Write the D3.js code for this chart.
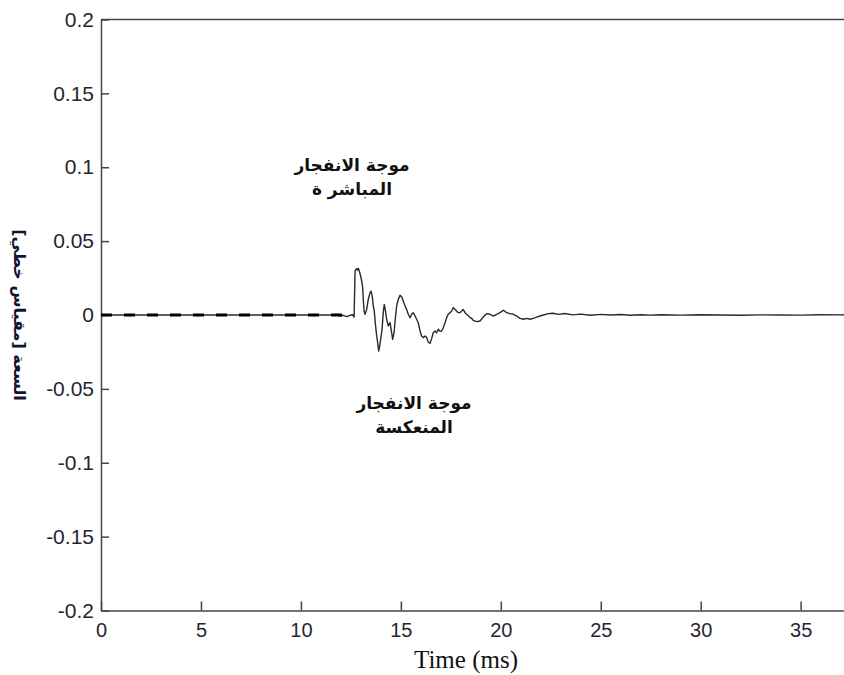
<!DOCTYPE html>
<html>
<head>
<meta charset="utf-8">
<script src="https://cdn.jsdelivr.net/npm/d3@7"></script>
<style>
  body { margin: 0; background: #fff; }
  svg { display: block; }
  .axis path, .axis line { stroke: #444; stroke-width: 1.5; }
  .axis text { font-family: "Liberation Sans", Arial, sans-serif; fill: #262630; }
  .arabic { font-family: "DejaVu Sans", sans-serif; font-weight: bold; fill: #111; }
</style>
</head>
<body>
<div id="chart"></div>
<script>
const w = 844;
const h = 675;
const plotLeft = 101;
const plotTop = 19.5;
const plotBottom = 610.5;
const pxPerMs = 19.99;

// time axis (ms) and measured amplitude
const timeMs = [0, 11.5, 11.8, 11.96, 12.12, 12.29, 12.46, 12.59, 12.66, 12.71, 12.79, 12.84, 12.87, 12.92, 12.99,
  13.04, 13.09, 13.12, 13.16, 13.21, 13.29, 13.37, 13.46, 13.51, 13.57, 13.62, 13.67, 13.72, 13.79, 13.84,
  13.89, 13.94, 13.99, 14.06, 14.12, 14.17, 14.22, 14.29, 14.37, 14.46, 14.54, 14.59, 14.66, 14.72, 14.79,
  14.87, 14.96, 15.04, 15.12, 15.21, 15.29, 15.37, 15.46, 15.54, 15.62, 15.71, 15.79, 15.87, 15.96, 16.04,
  16.12, 16.21, 16.29, 16.37, 16.46, 16.54, 16.62, 16.71, 16.79, 16.87, 16.96, 17.04, 17.12, 17.21, 17.29,
  17.37, 17.46, 17.54, 17.62, 17.71, 17.79, 17.87, 17.96, 18.04, 18.12, 18.21, 18.29, 18.38, 18.46, 18.54, 18.62, 18.79,
  18.96, 19.12, 19.29, 19.46, 19.62, 19.79, 19.96, 20.13, 20.29, 20.46, 20.63, 20.8, 20.96, 21.13, 21.3,
  21.46, 21.63, 21.8, 21.96, 22.13, 22.38, 22.6, 22.9, 23.2, 23.6, 24, 24.5, 25, 25.5, 26, 26.5, 27, 27.5,
  28, 29, 30, 31, 32, 33, 34, 35, 36, 37, 37.5];
const amplitude = [0, 0, 0.0004, -0.0007, -0.0002, -0.0011, -0.0002, 0.0002, -0.0014, 0.0298, 0.0313, 0.0305, 0.0316, 0.0298, 0.0264,
  0.0230, 0.0185, 0.0106, 0.0027, 0.0005, 0.0038, 0.0106, 0.0151, 0.0162, 0.0129, 0.0061, 0.0027, -0.0052, -0.0142, -0.0187,
  -0.0244, -0.0210, -0.0165, -0.0097, 0.0016, 0.0072, 0.0038, -0.0029, -0.0074, -0.0052, -0.0120, -0.0165, -0.0120, -0.0029, 0.0061,
  0.0106, 0.0133, 0.0124, 0.0095, 0.0061, 0.0038, 0.0005, -0.0018, 0.0005, 0.0016, -0.0007, -0.0029, -0.0052, -0.0108, -0.0142,
  -0.0153, -0.0142, -0.0153, -0.0183, -0.0192, -0.0160, -0.0120, -0.0108, -0.0120, -0.0097, -0.0110, -0.0108, -0.0086, -0.0052, -0.0018,
  0.0005, 0.0016, 0.0027, 0.0050, 0.0038, 0.0027, 0.0016, 0.0016, 0.0027, 0.0038, 0.0016, 0.0005, -0.0005, -0.0018, -0.0022, -0.0036, -0.0045,
  -0.0041, -0.0014, 0.0009, 0.0005, -0.0007, 0.0005, 0.0016, 0.0032, 0.0016, 0.0009, 0.0005, -0.0007, -0.0023, -0.0029, -0.0023,
  -0.0029, -0.0023, -0.0014, -0.0007, 0, 0.0009, 0.0012, 0.0004, 0.0010, 0.0001, 0.0006, -0.0002, 0.0004, 0, 0.0003, -0.0002, 0.0002, -0.0001,
  0.0002, -0.0001, 0.0002, 0, -0.0002, 0.0001, 0, -0.0001, 0.0002, 0.0001, 0.0002];

// direct-wave reference (dashed) before arrival
const directTime = [0, 12.4];
const directAmp = [0, 0];

const xTicks = [0, 5, 10, 15, 20, 25, 30, 35];
const yTicks = [-0.2, -0.15, -0.1, -0.05, 0, 0.05, 0.1, 0.15, 0.2];
const yTickLabels = ["-0.2", "-0.15", "-0.1", "-0.05", "0", "0.05", "0.1", "0.15", "0.2"];

const xLabel = "Time (ms)";
const yLabel = "السعة [مقياس خطي]";
const noteDirect = ["موجة الانفجار", "المباشر ة"];
const noteReflected = ["موجة الانفجار", "المنعكسة"];

const xScale = d3.scaleLinear().domain([0, 40]).range([plotLeft, plotLeft + 40 * pxPerMs]);
const yScale = d3.scaleLinear().domain([-0.2, 0.2]).range([plotBottom, plotTop]);

const svg = d3.select("#chart").append("svg").attr("width", w).attr("height", h);

// frame top line
svg.append("line")
  .attr("x1", plotLeft).attr("x2", w + 5)
  .attr("y1", plotTop).attr("y2", plotTop)
  .attr("stroke", "#444").attr("stroke-width", 1.5);

const xAxis = d3.axisBottom(xScale).tickValues(xTicks).tickSizeInner(-9).tickSizeOuter(0).tickPadding(12);
const gx = svg.append("g").attr("class", "axis")
  .attr("transform", "translate(0," + plotBottom + ")")
  .call(xAxis);
gx.selectAll("text").style("font-size", "20px");

const yAxis = d3.axisLeft(yScale).tickValues(yTicks).tickSizeInner(-8).tickSizeOuter(0).tickPadding(7)
  .tickFormat((d, i) => yTickLabels[i]);
const gy = svg.append("g").attr("class", "axis")
  .attr("transform", "translate(" + plotLeft + ",0)")
  .call(yAxis);
gy.selectAll("text").style("font-size", "21px");

const line = d3.line().x(d => xScale(d[0])).y(d => yScale(d[1]));

svg.append("path")
  .datum(timeMs.map((t, i) => [t, amplitude[i]]))
  .attr("d", line)
  .attr("fill", "none")
  .attr("stroke", "#2a2a2a")
  .attr("stroke-width", 1.4)
  .attr("stroke-linejoin", "round");

svg.append("path")
  .datum(directTime.map((t, i) => [t, directAmp[i]]))
  .attr("d", line)
  .attr("fill", "none")
  .attr("stroke", "#000")
  .attr("stroke-width", 2.8)
  .attr("stroke-dasharray", "11,12");

// axis titles
svg.append("text")
  .attr("x", 466).attr("y", 668)
  .attr("text-anchor", "middle")
  .style("font-family", "'Liberation Serif', 'Times New Roman', serif")
  .style("font-size", "25px")
  .style("fill", "#111")
  .text(xLabel);

svg.append("text")
  .attr("class", "arabic")
  .attr("transform", "translate(14,315) rotate(90)")
  .attr("text-anchor", "middle")
  .attr("direction", "rtl")
  .style("font-size", "16px")
  .style("fill", "#141430")
  .text(yLabel);

// annotations
function note(lines, cx, y0) {
  svg.append("g").selectAll("text")
    .data(lines)
    .enter()
    .append("text")
    .attr("class", "arabic")
    .attr("x", cx)
    .attr("y", (d, i) => y0 + i * 24)
    .attr("text-anchor", "middle")
    .attr("direction", "rtl")
    .style("font-size", "17px")
    .text(d => d);
}
note(noteDirect, 352, 171);
note(noteReflected, 414, 409);
</script>
</body>
</html>
